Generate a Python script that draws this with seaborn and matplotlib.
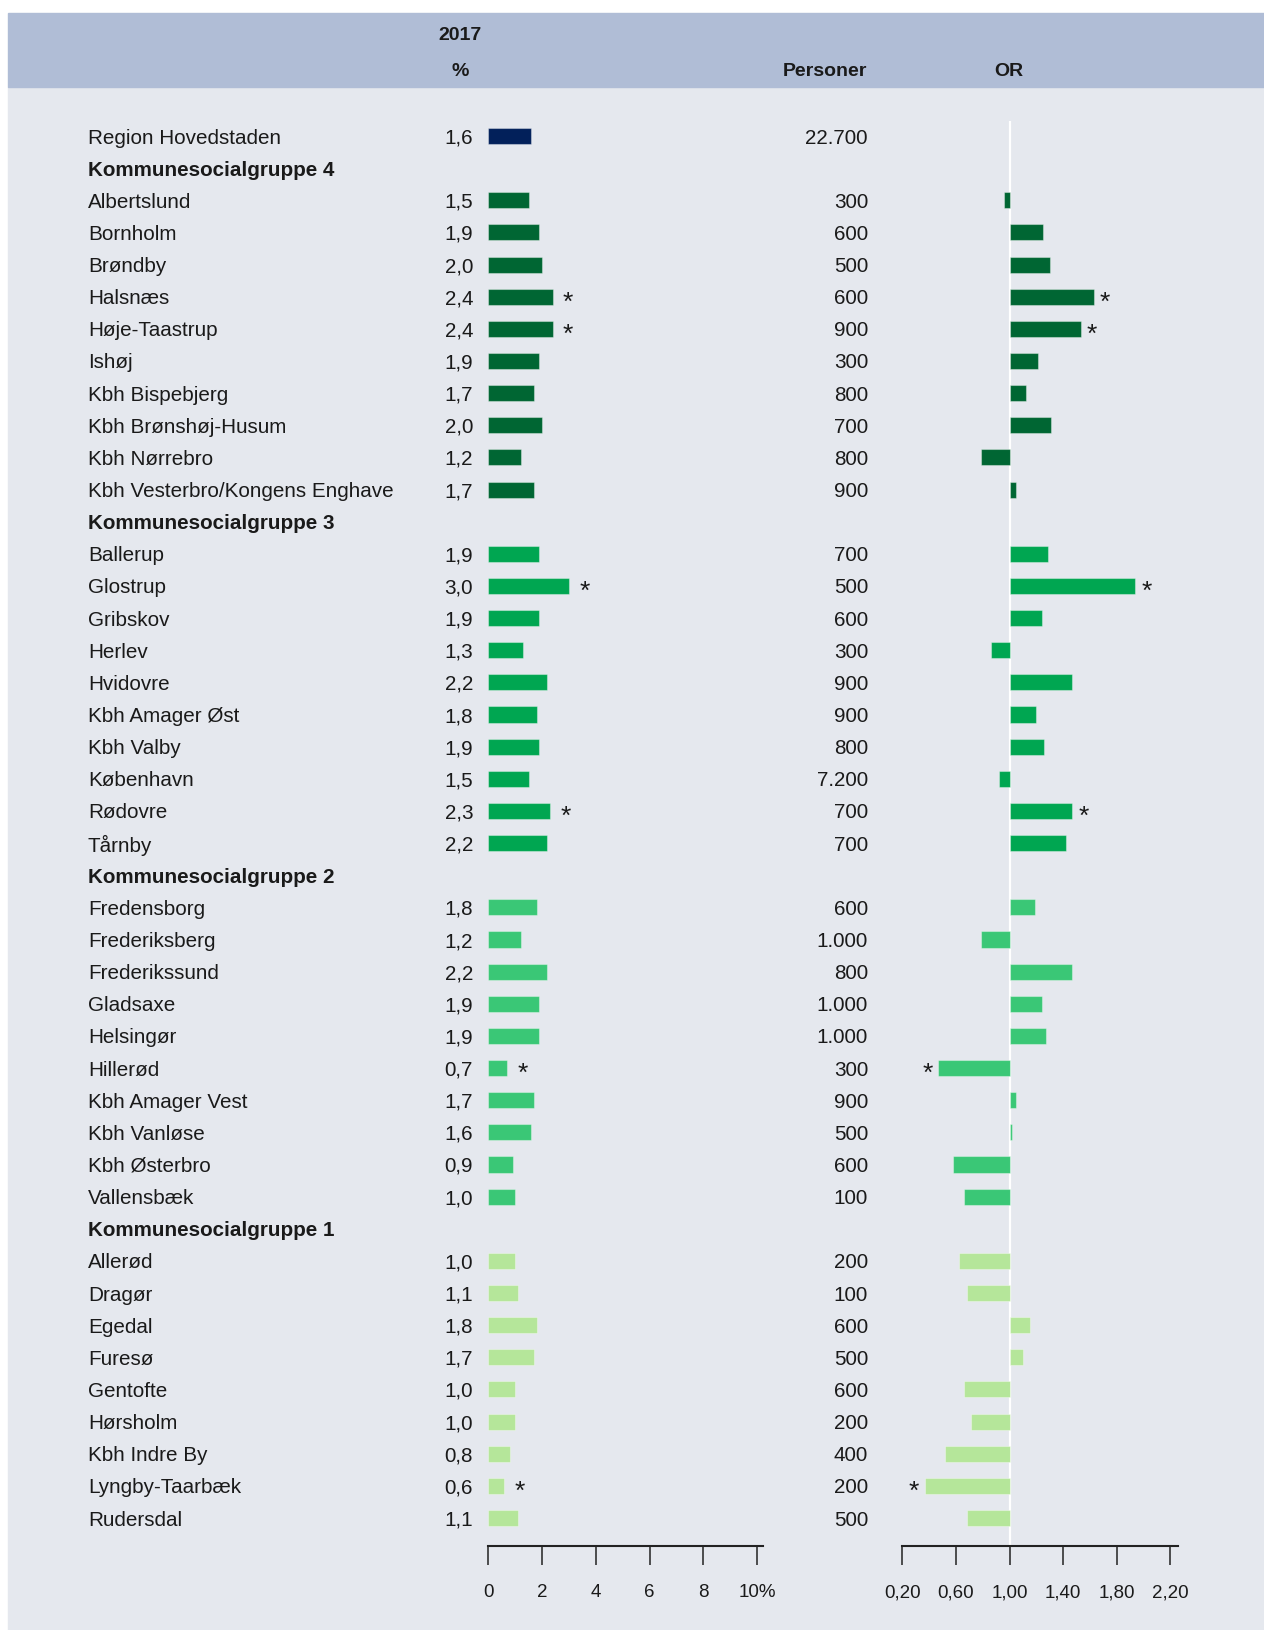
import matplotlib
matplotlib.use('Agg')
import numpy as np
import pandas as pd
import seaborn as sns
import matplotlib.pyplot as plt
import matplotlib.transforms as mtransforms
from matplotlib.patches import Rectangle
from matplotlib.ticker import FuncFormatter, FixedLocator

# data
names = ["Region Hovedstaden",
         "Albertslund", "Bornholm", "Brøndby", "Halsnæs", "Høje-Taastrup", "Ishøj",
         "Kbh Bispebjerg", "Kbh Brønshøj-Husum", "Kbh Nørrebro", "Kbh Vesterbro/Kongens Enghave",
         "Ballerup", "Glostrup", "Gribskov", "Herlev", "Hvidovre", "Kbh Amager Øst",
         "Kbh Valby", "København", "Rødovre", "Tårnby",
         "Fredensborg", "Frederiksberg", "Frederikssund", "Gladsaxe", "Helsingør", "Hillerød",
         "Kbh Amager Vest", "Kbh Vanløse", "Kbh Østerbro", "Vallensbæk",
         "Allerød", "Dragør", "Egedal", "Furesø", "Gentofte", "Hørsholm",
         "Kbh Indre By", "Lyngby-Taarbæk", "Rudersdal"]
groups = (["Region Hovedstaden"] + ["Kommunesocialgruppe 4"] * 10 + ["Kommunesocialgruppe 3"] * 10
          + ["Kommunesocialgruppe 2"] * 10 + ["Kommunesocialgruppe 1"] * 9)
pct = [1.6,
       1.5, 1.9, 2.0, 2.4, 2.4, 1.9, 1.7, 2.0, 1.2, 1.7,
       1.9, 3.0, 1.9, 1.3, 2.2, 1.8, 1.9, 1.5, 2.3, 2.2,
       1.8, 1.2, 2.2, 1.9, 1.9, 0.7, 1.7, 1.6, 0.9, 1.0,
       1.0, 1.1, 1.8, 1.7, 1.0, 1.0, 0.8, 0.6, 1.1]
persons = [22700,
           300, 600, 500, 600, 900, 300, 800, 700, 800, 900,
           700, 500, 600, 300, 900, 900, 800, 7200, 700, 700,
           600, 1000, 800, 1000, 1000, 300, 900, 500, 600, 100,
           200, 100, 600, 500, 600, 200, 400, 200, 500]
odds = [None,
        0.96, 1.25, 1.30, 1.63, 1.53, 1.21, 1.12, 1.31, 0.79, 1.05,
        1.29, 1.94, 1.24, 0.86, 1.47, 1.20, 1.26, 0.92, 1.47, 1.42,
        1.19, 0.79, 1.47, 1.24, 1.27, 0.47, 1.05, 1.02, 0.58, 0.66,
        0.62, 0.68, 1.15, 1.10, 0.66, 0.71, 0.52, 0.37, 0.68]
signif = ["Halsnæs", "Høje-Taastrup", "Glostrup", "Rødovre", "Hillerød", "Lyngby-Taarbæk"]

pct_ticks = [0, 2, 4, 6, 8, 10]
or_ticks = [0.2, 0.6, 1.0, 1.4, 1.8, 2.2]

palette = {"Region Hovedstaden": "#02205a",
           "Kommunesocialgruppe 4": "#006633",
           "Kommunesocialgruppe 3": "#00a651",
           "Kommunesocialgruppe 2": "#3ac776",
           "Kommunesocialgruppe 1": "#b5e69a"}
bg_color = '#e5e8ee'
band_color = '#b0bdd6'
txt = '#1a1a1a'

# row layout with group headings
rows, headers = [], []
pos, prev = 0, None
for n, g, p, pe, o in zip(names, groups, pct, persons, odds):
    if g != prev and g != "Region Hovedstaden":
        headers.append((pos, g))
        pos += 1
    rows.append(dict(row=pos, name=n, group=g, pct=p, persons=pe,
                     dev=(o - 1) if o is not None else np.nan, sig=n in signif))
    pos += 1
    prev = g
df = pd.DataFrame(rows)

sns.set_style('white')
plt.rcParams['font.family'] = ['Liberation Sans', 'DejaVu Sans']

W, H = 1264, 1630
fig = plt.figure(figsize=(W / 100, H / 100), dpi=100, facecolor='white')
fig.patches.append(Rectangle((8 / W, 0), 1 - 8 / W, 1 - 87 / H, transform=fig.transFigure,
                             color=bg_color, zorder=-5))
fig.patches.append(Rectangle((8 / W, 1 - 87 / H), 1 - 8 / W, 74 / H, transform=fig.transFigure,
                             color=band_color, zorder=-5))

top_px, bot_px = 121, 1546
row0, step = 136, 32.14


def make_ax(x0, x1):
    a = fig.add_axes([x0 / W, 1 - bot_px / H, (x1 - x0) / W, (bot_px - top_px) / H])
    a.patch.set_visible(False)
    return a


ax_p = make_ax(488.3, 488.3 + 10.2 * 26.9)
ax_o = make_ax(902.3, 902.3 + 2.06 * 134)

bar_kw = dict(orient='h', native_scale=True, width=0.5, dodge=False, legend=False,
              saturation=1, palette=palette, hue='group',
              edgecolor=(1, 1, 1, 0.35), linewidth=0.8)
sns.barplot(data=df, x='pct', y='row', ax=ax_p, **bar_kw)
sns.barplot(data=df.dropna(subset=['dev']), x='dev', y='row', ax=ax_o, **bar_kw)

ax_p.set_xlim(0, 10.2)
ax_o.set_xlim(-0.8, 1.26)
ax_o.axvline(0, color='white', lw=1.6, zorder=0)

for a in (ax_p, ax_o):
    a.set_ylim((bot_px - row0) / step, (top_px - row0) / step)
    a.set_xlabel('')
    a.set_ylabel('')
    a.set_yticks([])
    for s in ('top', 'right', 'left'):
        a.spines[s].set_visible(False)
    a.spines['bottom'].set_color('#222222')
    a.spines['bottom'].set_linewidth(1.5)
    a.tick_params(axis='x', bottom=True, direction='out', length=13.5, width=1.1,
                  color='#222222', labelsize=13.5, labelcolor=txt, pad=14)

ax_p.xaxis.set_major_locator(FixedLocator(pct_ticks))
ax_p.xaxis.set_major_formatter(FuncFormatter(lambda v, _: f"{v:.0f}%" if v == 10 else f"{v:.0f}"))
ax_o.xaxis.set_major_locator(FixedLocator([t - 1 for t in or_ticks]))
ax_o.xaxis.set_major_formatter(FuncFormatter(lambda v, _: f"{v + 1:.2f}".replace('.', ',')))

# labels column: x in figure units, y in row units, nudged down a little
tr = (mtransforms.blended_transform_factory(fig.transFigure, ax_p.transData)
      + mtransforms.ScaledTranslation(0, -2 / 100, fig.dpi_scale_trans))
fs = 14.9
for r in df.itertuples():
    fig.text(88 / W, r.row, r.name, transform=tr, ha='left', va='center', size=fs, color=txt)
    fig.text(473 / W, r.row, f"{r.pct:.1f}".replace('.', ','), transform=tr,
             ha='right', va='center', size=fs, color=txt)
    fig.text(868 / W, r.row, f"{r.persons:,}".replace(',', '.'), transform=tr,
             ha='right', va='center', size=fs, color=txt)
    if r.sig:
        ax_p.annotate('*', xy=(r.pct, r.row), xytext=(11, -4.5), textcoords='offset points',
                      ha='center', va='center', size=19, color=txt)
        side = 1 if r.dev > 0 else -1
        ax_o.annotate('*', xy=(r.dev, r.row), xytext=(side * 8, -4.5), textcoords='offset points',
                      ha='center', va='center', size=19, color=txt)
for rpos, g in headers:
    fig.text(88 / W, rpos, g, transform=tr, ha='left', va='center', size=fs,
             weight='bold', color=txt)

hs = 14
fig.text(460 / W, 1 - 35 / H, '2017', ha='center', va='center', size=hs, weight='bold', color=txt)
fig.text(460 / W, 1 - 71 / H, '%', ha='center', va='center', size=hs, weight='bold', color=txt)
fig.text(825 / W, 1 - 71 / H, 'Personer', ha='center', va='center', size=hs, weight='bold', color=txt)
fig.text(1009 / W, 1 - 71 / H, 'OR', ha='center', va='center', size=hs, weight='bold', color=txt)

fig.savefig('out.png', dpi=100, facecolor='white')
